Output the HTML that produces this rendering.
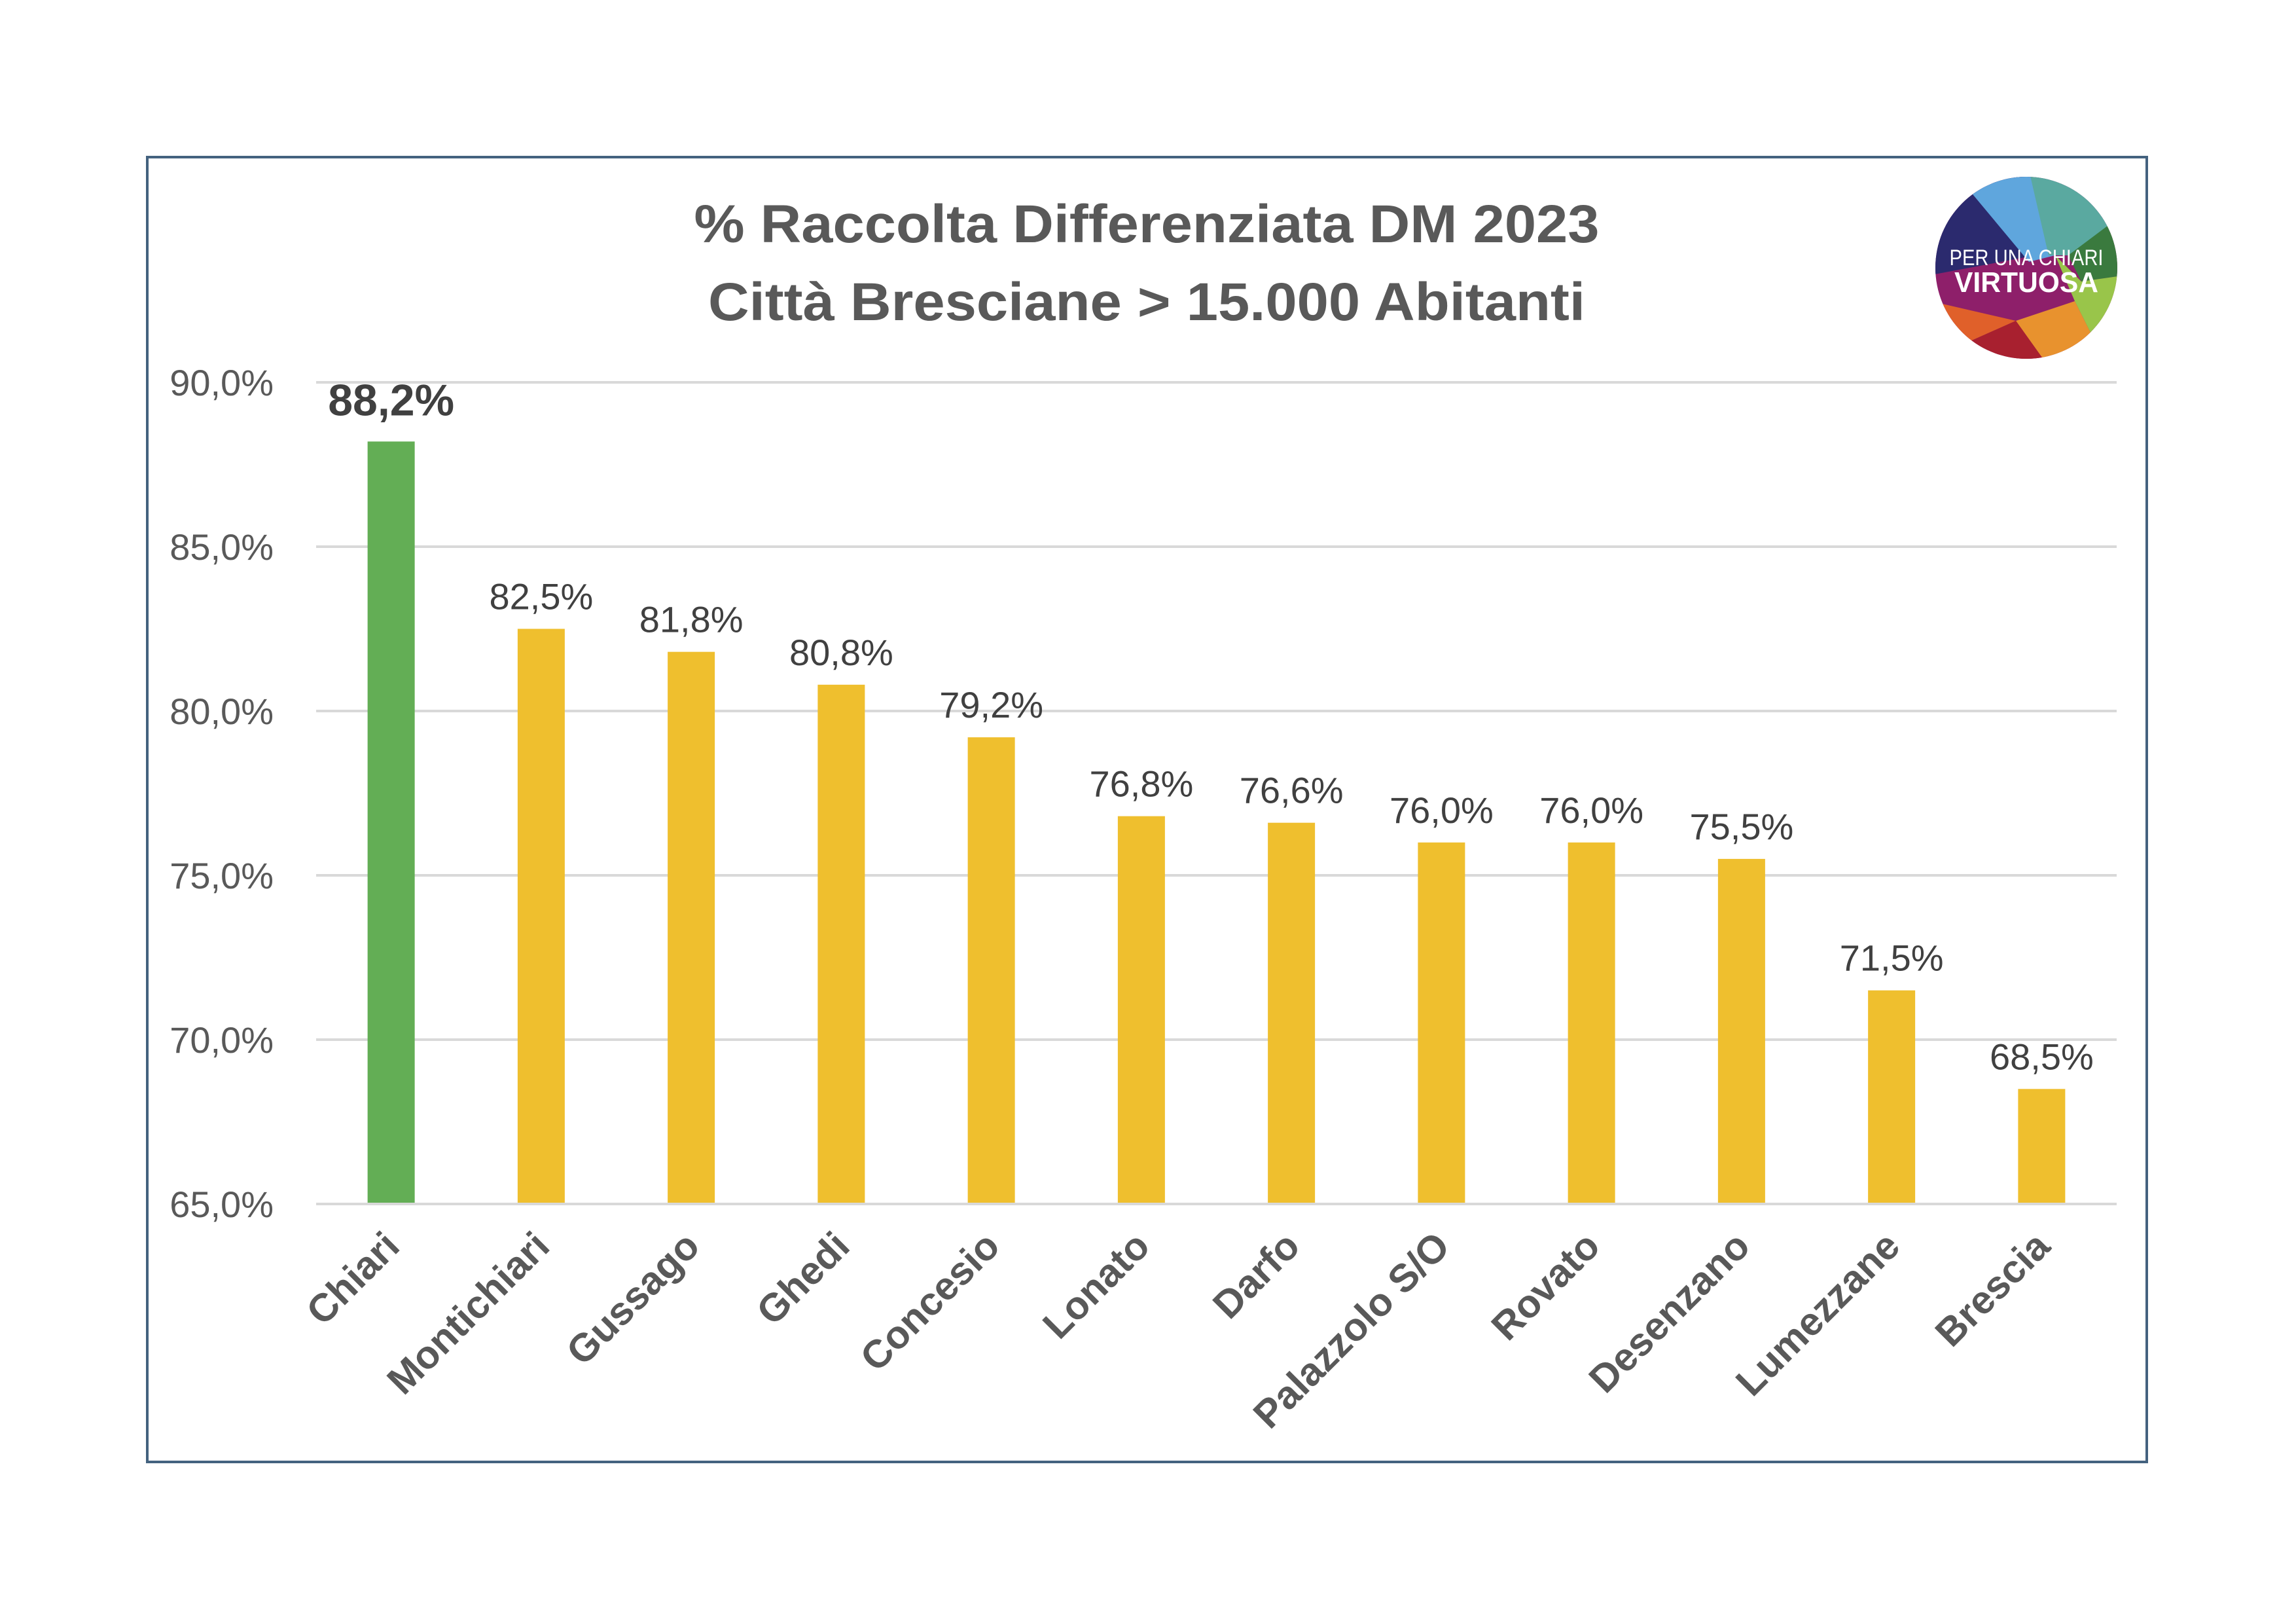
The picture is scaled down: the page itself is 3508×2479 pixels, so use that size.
<!DOCTYPE html>
<html><head><meta charset="utf-8"><style>
html,body{margin:0;padding:0;background:#fff;}
svg{display:block;font-family:"Liberation Sans",sans-serif;}
</style></head><body>
<svg id="chart" width="3508" height="2479" viewBox="0 0 3508 2479" xmlns="http://www.w3.org/2000/svg">
<rect x="0" y="0" width="3508" height="2479" fill="#fff"/>
<rect x="225" y="240" width="3055" height="1993" fill="#fff" stroke="#44627f" stroke-width="4"/>
<text x="1752" y="370" text-anchor="middle" font-size="82" font-weight="bold" fill="#595959" textLength="1383" lengthAdjust="spacingAndGlyphs">% Raccolta Differenziata DM 2023</text>
<text x="1752" y="489" text-anchor="middle" font-size="82" font-weight="bold" fill="#595959" textLength="1340" lengthAdjust="spacingAndGlyphs">Città Bresciane &gt; 15.000 Abitanti</text>
<g>
<defs><clipPath id="lc"><circle cx="3096" cy="409" r="139"/></clipPath></defs>
<g clip-path="url(#lc)">
<rect x="2950" y="260" width="300" height="300" fill="#8e1f6a"/>
<polygon points="2950,260 3100,260 3110,390 2950,420" fill="#2b2a6e"/>
<polygon points="3000,280 3100,260 3140,390 3100,400" fill="#5fa6dd"/>
<polygon points="3100,260 3250,260 3240,340 3160,390 3130,390" fill="#5aa9a0"/>
<polygon points="3160,390 3240,330 3250,420 3180,430" fill="#3a7a3e"/>
<polygon points="3140,390 3180,430 3250,420 3250,520 3200,520 3170,460" fill="#99c54a"/>
<polygon points="2950,460 3080,490 2990,530 2950,530" fill="#e0602a"/>
<polygon points="3080,490 3170,460 3200,520 3130,560" fill="#e8922e"/>
<polygon points="2990,530 3080,490 3130,560 3010,560" fill="#a8202f"/>
<polygon points="3130,560 3200,520 3230,560" fill="#f1e63a"/>
</g>
<text x="3096" y="405" text-anchor="middle" font-size="34" fill="#fff" textLength="235" lengthAdjust="spacingAndGlyphs">PER UNA CHIARI</text>
<text x="3096" y="446" text-anchor="middle" font-size="44" font-weight="bold" fill="#fff" textLength="220" lengthAdjust="spacingAndGlyphs">VIRTUOSA</text>
</g>
<g id="grid"></g><g id="yt"></g><g id="bars"></g><g id="vals"></g><g id="xl"></g>
</svg>
<script>
const categories=["Chiari","Montichiari","Gussago","Ghedi","Concesio","Lonato","Darfo","Palazzolo S/O","Rovato","Desenzano","Lumezzane","Brescia"];
const values=[88.2,82.5,81.8,80.8,79.2,76.8,76.6,76.0,76.0,75.5,71.5,68.5];
const valueLabels=["88,2%","82,5%","81,8%","80,8%","79,2%","76,8%","76,6%","76,0%","76,0%","75,5%","71,5%","68,5%"];
const ticks=[65,70,75,80,85,90];
const tickLabels=["65,0%","70,0%","75,0%","80,0%","85,0%","90,0%"];
const NS="http://www.w3.org/2000/svg";
const X0=483,X1=3234,Y0=1839,Y1=584,VMIN=65,VMAX=90;
const band=(X1-X0)/categories.length;
function xc(i){return X0+band*(i+0.5);}
function y(v){return Y0-(v-VMIN)/(VMAX-VMIN)*(Y0-Y1);}
function mk(t,a,p){const e=document.createElementNS(NS,t);for(const k in a)e.setAttribute(k,a[k]);p.appendChild(e);return e;}
const g=document.getElementById('grid'),yt=document.getElementById('yt'),bg=document.getElementById('bars'),vg=document.getElementById('vals'),xg=document.getElementById('xl');
ticks.forEach((t,i)=>{
 const l=mk('line',{x1:X0,x2:X1,y1:y(t),y2:y(t),stroke:'#d9d9d9','stroke-width':4},g);
 
 
 const tx=mk('text',{x:418,y:y(t)+20,'text-anchor':'end','font-size':56,fill:'#595959'},yt);
 tx.textContent=tickLabels[i];
 
 
});
categories.forEach((c,i)=>{
 const bw=72,cx=xc(i);
 const r=mk('rect',{x:cx-bw/2,y:y(values[i]),width:bw,height:Y0-2-y(values[i]),fill:i===0?'#63ae55':'#efbf2e'},bg);
 
 
 const v=mk('text',{x:cx,y:y(values[i])-(i===0?40:30),'text-anchor':'middle','font-size':i===0?68:56,'font-weight':i===0?'bold':'normal',fill:'#404040'},vg);
 v.textContent=valueLabels[i];
 
 
 const lx=cx+16,ly=1907;
 const t=mk('text',{x:lx,y:ly,'text-anchor':'end','font-size':60,'font-weight':'bold',fill:'#595959',transform:`rotate(-45 ${lx} ${ly})`},xg);
 t.textContent=c;
 
 
});
</script>
</body></html>
